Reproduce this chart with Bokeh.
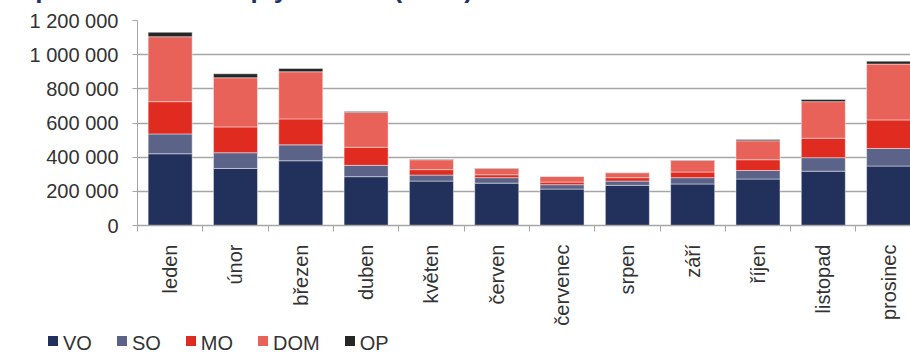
import math
from bokeh.plotting import figure
from bokeh.layouts import column
from bokeh.models import Range1d, FixedTicker, Div
from bokeh.embed import file_html
from bokeh.resources import INLINE

title_text = "Spotřeba zemního plynu v ČR (MWh)"
months = ["leden", "únor", "březen", "duben", "květen", "červen",
          "červenec", "srpen", "září", "říjen", "listopad", "prosinec"]
vo = [420000, 334000, 379000, 286000, 260000, 248000, 213000, 235000, 243000, 272000, 318000, 348000]
so = [116000, 92000, 93000, 66000, 35000, 32000, 26000, 25000, 37000, 50000, 79000, 103000]
mo = [189000, 151000, 152000, 106000, 32000, 17000, 15000, 20000, 33000, 63000, 114000, 167000]
dom = [380000, 288000, 276000, 204000, 58000, 37000, 33000, 29000, 68000, 111000, 214000, 327000]
op = [26000, 23000, 19000, 6000, 3000, 2000, 1000, 1000, 2000, 7000, 13000, 17000]
series = ["VO", "SO", "MO", "DOM", "OP"]
y_ticks = [0, 200000, 400000, 600000, 800000, 1000000, 1200000]

colors = ["#22305c", "#5b6488", "#e02b20", "#e8625a", "#262626"]
FONT = "Liberation Sans"
GRID = "#a6a6a6"
TXT = "#333333"

pos = [i + 0.5 for i in range(len(months))]
bounds = list(range(len(months) + 1))
data = dict(x=pos, VO=vo, SO=so, MO=mo, DOM=dom, OP=op)

W, H0, H1, H2 = 910, 8, 325, 20

# title strip: the title sits mostly above the visible page, as in the reference
title_div = Div(
    text=(f'<div style="position:relative;top:-24px;left:18px;font-family:\'{FONT}\';'
          f'font-weight:bold;font-size:26px;line-height:26px;color:#1f3366;'
          f'white-space:nowrap">{title_text}</div>'),
    width=W, height=H0, margin=0,
)

p = figure(width=W, height=H1, output_backend="svg", toolbar_location=None,
           x_range=Range1d(0, 11.835), y_range=Range1d(0, 1200000),
           min_border_left=137, min_border_right=0, min_border_top=20 - H0,
           min_border_bottom=H1 - (225 - H0))
p.outline_line_color = None
p.background_fill_color = "white"
p.border_fill_color = "white"

rs = p.vbar_stack(series, x="x", width=0.674, source=data, color=colors,
                  line_color="white", line_width=0.8, line_alpha=0.55)

# grid
p.xgrid.grid_line_color = None
p.ygrid.ticker = FixedTicker(ticks=y_ticks)
p.ygrid.grid_line_color = GRID
p.ygrid.grid_line_width = 1.3

# y axis
ya = p.yaxis[0]
ya.ticker = FixedTicker(ticks=y_ticks, minor_ticks=[])
ya.major_label_overrides = {v: f"{v:,}".replace(",", " ") for v in y_ticks}
ya.axis_line_color = GRID
ya.major_tick_line_color = GRID
ya.major_tick_in = 0
ya.major_tick_out = 5
ya.minor_tick_line_color = None
ya.major_label_standoff = 14
ya.major_label_text_font = FONT
ya.major_label_text_font_size = "20px"
ya.major_label_text_color = TXT

# x axis
xa = p.xaxis[0]
xa.ticker = FixedTicker(ticks=pos, minor_ticks=bounds)
xa.major_label_overrides = {x: m for x, m in zip(pos, months)}
xa.axis_line_color = GRID
xa.axis_line_width = 1.3
xa.major_tick_line_color = None
xa.major_tick_in = 0
xa.major_tick_out = 0
xa.minor_tick_line_color = GRID
xa.minor_tick_in = 0
xa.minor_tick_out = 6
xa.major_label_orientation = math.pi / 2
xa.major_label_standoff = 13
xa.major_label_text_font = FONT
xa.major_label_text_font_size = "20px"
xa.major_label_text_color = TXT

# legend (HTML strip below the plot)
items = "".join(
    f'<span style="display:inline-block;width:10px;height:10px;background:{c};'
    f'margin-right:5px;vertical-align:4px"></span>'
    f'<span style="margin-right:25px">{s}</span>'
    for s, c in zip(series, colors)
)
legend_div = Div(
    text=(f'<div style="padding-left:48px;font-family:\'{FONT}\';font-size:20px;'
          f'color:{TXT};line-height:20px;white-space:nowrap">{items}</div>'),
    width=W, height=H2, margin=0,
)

layout = column(title_div, p, legend_div, spacing=0)
html = file_html(layout, INLINE)
html = html.replace("</head>", "<style>html, body { overflow: hidden; }</style></head>", 1)
open("out.html", "w").write(html)
